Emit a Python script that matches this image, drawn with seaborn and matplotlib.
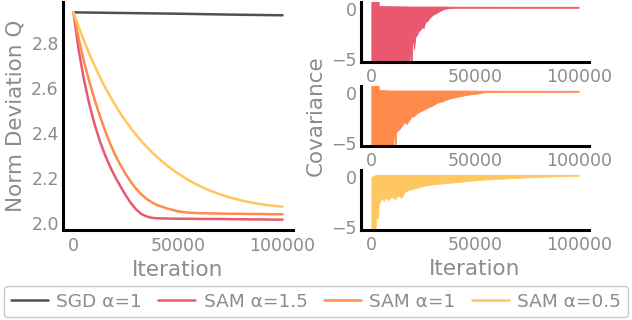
import pandas as pd
import matplotlib
matplotlib.use("Agg")
import matplotlib.pyplot as plt
from matplotlib.lines import Line2D
import seaborn as sns

# ----- data -----
iters = [0, 2500, 5000, 7500, 10000, 12500, 15000, 17500, 20000, 22500,
         25000, 27500, 30000, 32500, 35000, 37500, 40000, 45000, 50000,
         55000, 60000, 65000, 70000, 75000, 80000, 85000, 90000, 95000, 100000]

sgd_iters = [0, 25000, 50000, 75000, 100000]
q_sgd = [2.935, 2.932, 2.929, 2.925, 2.922]

q_sam15 = [2.935, 2.767, 2.637, 2.530, 2.441, 2.366, 2.303, 2.249, 2.202, 2.161,
           2.121, 2.086, 2.058, 2.038, 2.027, 2.021, 2.019, 2.018, 2.017,
           2.017, 2.016, 2.016, 2.016, 2.015, 2.015, 2.014, 2.014, 2.013, 2.013]

q_sam1 = [2.935, 2.818, 2.718, 2.630, 2.550, 2.478, 2.412, 2.352, 2.300, 2.255,
          2.215, 2.180, 2.150, 2.125, 2.105, 2.090, 2.078, 2.062, 2.050,
          2.044, 2.042, 2.041, 2.040, 2.039, 2.039, 2.038, 2.038, 2.037, 2.037]

q_sam05 = [2.935, 2.870, 2.810, 2.752, 2.700, 2.650, 2.604, 2.562, 2.522, 2.485,
           2.451, 2.419, 2.390, 2.362, 2.337, 2.313, 2.291, 2.252, 2.218,
           2.189, 2.164, 2.143, 2.126, 2.111, 2.099, 2.089, 2.081, 2.075, 2.071]

# covariance envelopes (lower / upper edge of the noisy trace)
cov_it_15 = [0, 3400, 3600, 18400, 18600, 19400, 19800, 20200, 20600, 21200, 22000,
             22800, 23600, 24400, 25200, 26000, 27000, 28000, 29500, 31000, 33000,
             35000, 37500, 40000, 100000]
cov_lo_15 = [-6, -6, -6, -6, -3.7, -6, -3.4, -3.0, -4.0, -2.8, -2.6,
             -2.2, -2.1, -1.8, -1.9, -1.3, -1.2, -0.9, -0.6, -0.45, -0.2,
             0.0, 0.08, 0.12, 0.12]
cov_hi_15 = [0.9, 0.9, 0.3, 0.25, 0.25, 0.25, 0.25, 0.25, 0.25, 0.25, 0.25,
             0.25, 0.25, 0.25, 0.25, 0.25, 0.25, 0.25, 0.25, 0.25, 0.25,
             0.25, 0.24, 0.23, 0.22]

cov_it_1 = [0, 3400, 3600, 9600, 10000, 10400, 10800, 11200, 11600, 12000, 12400,
            13600, 16000, 17000, 19200, 20500, 22400, 24000, 27200, 29000, 32000,
            34000, 36900, 40000, 43300, 47000, 51300, 55000, 100000]
cov_lo_1 = [-6, -6, -6, -6, -4.3, -6, -4.2, -4.1, -6, -3.9, -3.8,
            -3.6, -2.9, -3.1, -2.4, -2.3, -1.95, -1.8, -1.45, -1.3, -0.95,
            -0.85, -0.6, -0.45, -0.3, -0.15, -0.05, 0.1, 0.12]
cov_hi_1 = [0.9, 0.9, 0.3, 0.25, 0.25, 0.25, 0.25, 0.25, 0.25, 0.25, 0.25,
            0.25, 0.25, 0.25, 0.25, 0.25, 0.25, 0.25, 0.25, 0.25, 0.25,
            0.25, 0.25, 0.25, 0.25, 0.24, 0.23, 0.23, 0.22]

cov_it_05 = [0, 2000, 2200, 3200, 3500, 4800, 6000, 7000, 8000, 9000, 10000,
             11500, 13000, 14400, 16000, 18000, 20800, 24000, 27200, 31000, 35200,
             43300, 51300, 62500, 78500, 90000, 100000]
cov_lo_05 = [-6, -6, -4.1, -4.1, -2.8, -2.1, -2.4, -2.0, -2.3, -2.1, -2.0,
             -2.2, -1.8, -2.1, -1.5, -1.3, -1.15, -0.95, -0.8, -0.7, -0.63,
             -0.47, -0.3, -0.17, 0.0, 0.08, 0.12]
cov_hi_05 = [0.0, 0.2, 0.22, 0.22, 0.22, 0.22, 0.22, 0.22, 0.22, 0.22, 0.22,
             0.22, 0.22, 0.22, 0.22, 0.22, 0.22, 0.22, 0.22, 0.22, 0.22,
             0.22, 0.22, 0.22, 0.22, 0.22, 0.22]

labels = ["SGD α=1", "SAM α=1.5", "SAM α=1", "SAM α=0.5"]
colors = ["#4f514d", "#e9586f", "#ff8a4c", "#ffc75f"]

# ----- style -----
sns.set_theme(style="white")
plt.rcParams["font.family"] = ["DejaVu Sans"]
grey = "#8c8c8c"
plt.rcParams.update({
    "axes.edgecolor": "black",
    "axes.linewidth": 2.2,
    "xtick.color": grey,
    "ytick.color": grey,
    "axes.labelcolor": grey,
    "text.color": grey,
})

fig = plt.figure(figsize=(6.32, 3.2), dpi=100)

# ----- left: norm deviation -----
df = pd.concat([
    pd.DataFrame({"Iteration": sgd_iters, "Q": q_sgd, "run": labels[0]}),
    pd.DataFrame({"Iteration": iters, "Q": q_sam15, "run": labels[1]}),
    pd.DataFrame({"Iteration": iters, "Q": q_sam1, "run": labels[2]}),
    pd.DataFrame({"Iteration": iters, "Q": q_sam05, "run": labels[3]}),
])

ax = fig.add_axes([63 / 632, 1 - 230 / 320, 230 / 632, 228 / 320])
sns.lineplot(data=df, x="Iteration", y="Q", hue="run", hue_order=labels,
             palette=dict(zip(labels, colors)), linewidth=1.8, ax=ax, legend=False)
ax.set_xlabel("Iteration", fontsize=15.5)
ax.set_ylabel("Norm Deviation Q", fontsize=15.5)
ax.set_xticks([0, 50000, 100000])
ax.tick_params(axis="x", length=0, pad=5, labelsize=12.5)
ax.tick_params(axis="y", length=0, pad=3, labelsize=12.5)
sns.despine(ax=ax)

# ----- right: covariance panels -----
panels = [
    (cov_it_15, cov_lo_15, cov_hi_15, colors[1], 2),
    (cov_it_1, cov_lo_1, cov_hi_1, colors[2], 86),
    (cov_it_05, cov_lo_05, cov_hi_05, colors[3], 170),
]
right_axes = []
for it, lo, hi, c, top in panels:
    a = fig.add_axes([361 / 632, 1 - (top + 60) / 320, 228 / 632, 60 / 320])
    a.fill_between(it, lo, hi, color=c, linewidth=0.6, edgecolor=c)
    a.set_xlim(-5000, 105000)
    a.set_ylim(-5.3, 0.7)
    a.set_yticks([-5, 0])
    a.set_xticks([0, 50000, 100000])
    a.tick_params(axis="x", length=0, pad=4, labelsize=12.5)
    a.tick_params(axis="y", length=0, pad=3, labelsize=12.5)
    sns.despine(ax=a)
    right_axes.append(a)

right_axes[1].set_ylabel("Covariance", fontsize=15.5)
right_axes[2].set_xlabel("Iteration", fontsize=15.5)

# ----- legend -----
handles = [Line2D([], [], color=c, linewidth=1.8) for c in colors]
leg = fig.legend(handles, labels, loc="lower center", bbox_to_anchor=(0.5, 0.0),
                 ncol=4, fontsize=13.3, frameon=True, handletextpad=0.45,
                 columnspacing=0.9, borderpad=0.35, borderaxespad=0.15,
                 fancybox=True)
leg.get_frame().set_edgecolor("#bbbbbb")
leg.get_frame().set_linewidth(1.0)
for t in leg.get_texts():
    t.set_color(grey)

fig.savefig("out.png", dpi=100)
